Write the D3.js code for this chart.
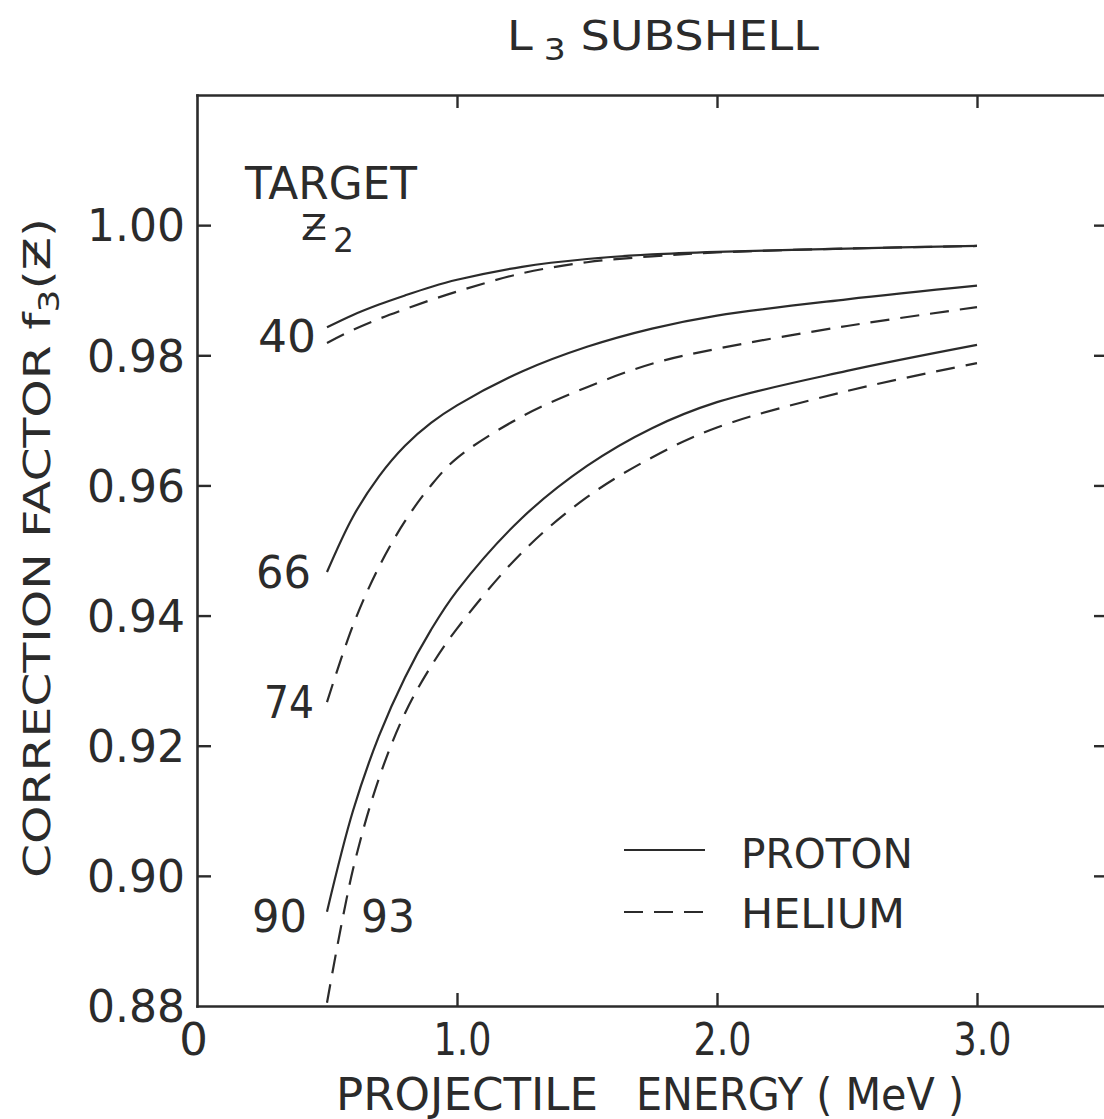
<!DOCTYPE html>
<html>
<head>
<meta charset="utf-8">
<script src="https://cdn.jsdelivr.net/npm/d3@7"></script>
<style>
  body { margin: 0; background: #ffffff; }
  svg { display: block; }
  text { font-family: "DejaVu Sans", sans-serif; fill: #2b2b2b; }
</style>
</head>
<body>
<svg id="chart" width="1104" height="1119"></svg>
<script>
// Projectile energy grid (MeV) shared by all curves
const energy = [0.5, 0.6, 0.7, 0.8, 0.9, 1.0, 1.25, 1.5, 1.75, 2.0, 2.5, 3.0];

// L3-subshell correction factor f3(z), proton projectiles
const proton40 = [0.9843, 0.9862, 0.9878, 0.9892, 0.9905, 0.9916, 0.9936, 0.9948, 0.9955, 0.9959, 0.9964, 0.9968];
const proton66 = [0.9467, 0.9552, 0.9614, 0.9661, 0.9696, 0.9723, 0.9775, 0.9813, 0.9841, 0.9861, 0.9886, 0.9907];
const proton90 = [0.8945, 0.9100, 0.9215, 0.9305, 0.9378, 0.9438, 0.9550, 0.9630, 0.9688, 0.9728, 0.9776, 0.9816];

// L3-subshell correction factor f3(z), helium projectiles
const helium40 = [0.9819, 0.9839, 0.9856, 0.9871, 0.9885, 0.9898, 0.9926, 0.9943, 0.9952, 0.9958, 0.9964, 0.9968];
const helium74 = [0.9267, 0.9385, 0.9475, 0.9545, 0.9600, 0.9642, 0.9706, 0.9751, 0.9787, 0.9810, 0.9845, 0.9874];
const helium93 = [0.8805, 0.9010, 0.9150, 0.9250, 0.9322, 0.9380, 0.9497, 0.9582, 0.9643, 0.9689, 0.9745, 0.9788];

// Axis ticks
const xTickValues = [0, 1, 2, 3];
const xTickLabels = ["0", "1.0", "2.0", "3.0"];
const yTickValues = [0.88, 0.90, 0.92, 0.94, 0.96, 0.98, 1.00];
const yTickLabels = ["0.88", "0.90", "0.92", "0.94", "0.96", "0.98", "1.00"];

const series = [
  { z: "40", kind: "proton", values: proton40 },
  { z: "66", kind: "proton", values: proton66 },
  { z: "90", kind: "proton", values: proton90 },
  { z: "40", kind: "helium", values: helium40 },
  { z: "74", kind: "helium", values: helium74 },
  { z: "93", kind: "helium", values: helium93 }
];

const ink = "#2b2b2b";
const dash = "19,11";

const svg = d3.select("#chart");
const plotLeft = 197, plotRight = 1107, plotTop = 95, plotBottom = 1006;

const x = d3.scaleLinear().domain([0, 3.5]).range([plotLeft, plotRight]);
const y = d3.scaleLinear().domain([0.88, 1.02]).range([plotBottom, plotTop]);

function styleAxis(g) {
  g.attr("font-family", null).attr("font-size", null);
  g.select(".domain").attr("stroke", ink).attr("stroke-width", 2.6).attr("stroke-linecap", "square");
  g.selectAll(".tick line").attr("stroke", ink).attr("stroke-width", 2.4);
  g.selectAll(".tick text").attr("fill", ink);
}

// Frame: four axes with inward ticks
svg.append("g")
  .attr("transform", `translate(0,${plotBottom})`)
  .call(d3.axisBottom(x).tickValues(xTickValues).tickSizeInner(-13).tickSizeOuter(0)
    .tickPadding(17).tickFormat((d, i) => xTickLabels[i]))
  .call(styleAxis)
  .call(g => g.selectAll(".tick text").style("font-size", "45px")
    .attr("textLength", (d, i) => i === 0 ? null : 58).attr("lengthAdjust", "spacingAndGlyphs")
    .attr("dx", (d, i) => i === 0 ? -4 : 5))
  .call(g => g.selectAll(".tick line").filter(d => d === 0).remove());

svg.append("g")
  .attr("transform", `translate(0,${plotTop})`)
  .call(d3.axisTop(x).tickValues([1, 2, 3]).tickSizeInner(-13).tickSizeOuter(0).tickFormat(""))
  .call(styleAxis);

svg.append("g")
  .attr("transform", `translate(${plotLeft},0)`)
  .call(d3.axisLeft(y).tickValues(yTickValues).tickSizeInner(-14).tickSizeOuter(0)
    .tickPadding(12).tickFormat((d, i) => yTickLabels[i]))
  .call(styleAxis)
  .call(g => g.selectAll(".tick text").style("font-size", "44px").attr("dy", "0.36em"))
  .call(g => g.selectAll(".tick line").filter(d => d === 0.88).remove());

svg.append("g")
  .attr("transform", `translate(${plotRight},0)`)
  .call(d3.axisRight(y).tickValues(yTickValues.slice(1)).tickSizeInner(-13).tickSizeOuter(0).tickFormat(""))
  .call(styleAxis);

// Curves
const line = d3.line()
  .x((d, i) => x(energy[i]))
  .y(d => y(d))
  .curve(d3.curveCatmullRom.alpha(0.5));

svg.append("g").selectAll("path")
  .data(series)
  .join("path")
  .attr("d", d => line(d.values))
  .attr("fill", "none")
  .attr("stroke", ink)
  .attr("stroke-width", 2.2)
  .attr("stroke-dasharray", d => d.kind === "helium" ? dash : null);

// Text helper
function label(px, py, str, size, anchor, len) {
  const t = svg.append("text")
    .attr("x", px).attr("y", py)
    .attr("text-anchor", anchor || "start")
    .style("font-size", size + "px")
    .text(str);
  if (len) t.attr("textLength", len).attr("lengthAdjust", "spacingAndGlyphs");
  return t;
}

// Title
const title = svg.append("text")
  .attr("x", 507).attr("y", 50)
  .style("font-size", "40px")
  .attr("textLength", 312).attr("lengthAdjust", "spacingAndGlyphs");
title.append("tspan").text("L");
title.append("tspan").attr("dy", 10).style("font-size", "30px").text(" 3");
title.append("tspan").attr("dy", -10).text(" SUBSHELL");

// Target Z2 heading (Z written with a crossbar)
label(245, 199, "TARGET", 44, "start", 172);
label(301, 240, "Z", 36, "start", 26);
svg.append("line")
  .attr("x1", 307).attr("x2", 325).attr("y1", 227.5).attr("y2", 227.5)
  .attr("stroke", ink).attr("stroke-width", 2.2);
label(333, 252, "2", 33, "start", 21);

// Curve labels (atomic number of the target)
label(316, 352, "40", 44, "end", 58);
label(311, 588, "66", 44, "end", 55);
label(314, 718, "74", 44, "end", 50);
label(307, 932, "90", 44, "end", 55);
label(361, 932, "93", 44, "start", 54);

// Legend
const legend = [
  { name: "PROTON", kind: "proton", ly: 850, ty: 868, len: 172 },
  { name: "HELIUM", kind: "helium", ly: 912, ty: 928, len: 164 }
];
legend.forEach(d => {
  svg.append("line")
    .attr("x1", 624).attr("x2", 705).attr("y1", d.ly).attr("y2", d.ly)
    .attr("stroke", ink).attr("stroke-width", 2.2)
    .attr("stroke-dasharray", d.kind === "helium" ? dash : null);
  label(741, d.ty, d.name, 41, "start", d.len);
});

// X axis title
label(336, 1110, "PROJECTILE", 44, "start", 262);
label(636, 1110, "ENERGY ( MeV )", 44, "start", 328);

// Y axis title
const yt = svg.append("text")
  .attr("transform", "translate(50,878) rotate(-90)")
  .style("font-size", "38px")
  .attr("textLength", 660).attr("lengthAdjust", "spacingAndGlyphs");
yt.append("tspan").text("CORRECTION  FACTOR  f");
yt.append("tspan").attr("dy", 9).style("font-size", "28px").text("3");
yt.append("tspan").attr("dy", -9).text("(Ƶ)");
</script>
</body>
</html>
